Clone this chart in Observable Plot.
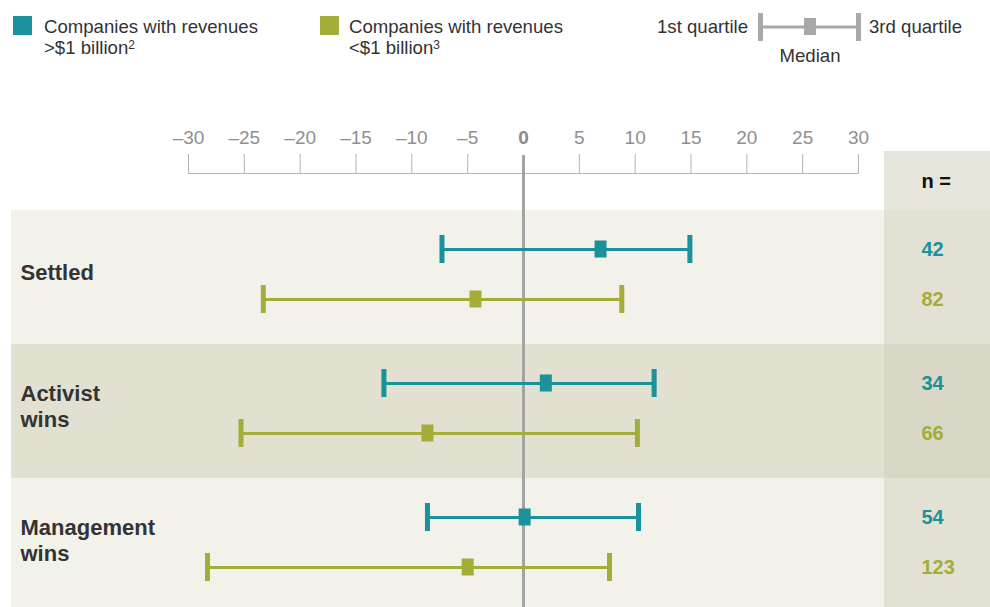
<!DOCTYPE html>
<html><head><meta charset="utf-8">
<script src="https://cdn.jsdelivr.net/npm/d3@7"></script>
<script src="https://cdn.jsdelivr.net/npm/@observablehq/plot@0.6"></script>
<style>
body{margin:0;background:#fff;font-family:"Liberation Sans",Arial,Helvetica,sans-serif;}
#legend{position:relative;width:990px;height:100px;color:#333;font-size:18.6px;}
#legend .sw{position:absolute;width:19px;height:19px;top:16px;}
#legend .txt{position:absolute;top:17px;line-height:20px;white-space:nowrap;}
#legend .l2{top:38px;}
#legend sup{font-size:12px;line-height:10px;vertical-align:baseline;position:relative;top:-5px;}
#chart svg{display:block;}
</style></head><body>
<div id="legend">
  <div class="sw" style="left:13px;background:#1a919b"></div>
  <div class="txt" style="left:44px">Companies with revenues</div>
  <div class="txt l2" style="left:44px">&gt;$1 billion<sup>2</sup></div>
  <div class="sw" style="left:320px;background:#a4ad37"></div>
  <div class="txt" style="left:349px">Companies with revenues</div>
  <div class="txt l2" style="left:349px">&lt;$1 billion<sup>3</sup></div>
  <div class="txt" style="right:242px;text-align:right">1st quartile</div>
  <svg style="position:absolute;left:757px;top:12px" width="106" height="30">
    <line x1="4" x2="102" y1="15" y2="15" stroke="#a8a8a8" stroke-width="3"/>
    <rect x="1" y="1" width="5" height="28" fill="#a8a8a8"/>
    <rect x="99" y="1" width="5" height="28" fill="#a8a8a8"/>
    <rect x="47" y="6" width="12" height="17" fill="#a8a8a8"/>
  </svg>
  <div class="txt" style="left:869px">3rd quartile</div>
  <div class="txt" style="left:810px;top:46px;transform:translateX(-50%)">Median</div>
</div>
<div id="chart"></div>
<script>
// ---- data ----
const groups = ["Settled", "Activist wins", "Management wins"];
const groupLabels = ["Settled", "Activist\nwins", "Management\nwins"];
const xTicks = [-30, -25, -20, -15, -10, -5, 0, 5, 10, 15, 20, 25, 30];

// Companies with revenues > $1 billion
const bigQ1  = [-7.3, -12.5, -8.6];
const bigMed = [6.9, 2.0, 0.1];
const bigQ3  = [14.9, 11.7, 10.3];
const bigN   = [42, 34, 54];

// Companies with revenues < $1 billion
const smallQ1  = [-23.3, -25.3, -28.3];
const smallMed = [-4.3, -8.6, -5.0];
const smallQ3  = [8.8, 10.2, 7.7];
const smallN   = [82, 66, 123];

// ---- tables ----
const big = groups.map((g, i) => ({group: g, q1: bigQ1[i], med: bigMed[i], q3: bigQ3[i], n: bigN[i]}));
const small = groups.map((g, i) => ({group: g, q1: smallQ1[i], med: smallMed[i], q3: smallQ3[i], n: smallN[i]}));
const labels = groups.map((g, i) => ({group: g, label: groupLabels[i]}));

const TEAL = "#1a919b", OLIVE = "#a4ad37";
const fmt = d => d < 0 ? "\u2013" + (-d) : String(d);

function series(rows, color, dy, capTop, medTop) {
  const bw = 134;
  return [
    Plot.ruleY(rows, {y: "group", x1: "q1", x2: "q3", stroke: color, strokeWidth: 3, dy}),
    Plot.tickX(rows, {x: "q1", y: "group", stroke: color, strokeWidth: 5, insetTop: capTop, insetBottom: bw - capTop - 28}),
    Plot.tickX(rows, {x: "q3", y: "group", stroke: color, strokeWidth: 5, insetTop: capTop, insetBottom: bw - capTop - 28}),
    Plot.tickX(rows, {x: "med", y: "group", stroke: color, strokeWidth: 12, insetTop: medTop, insetBottom: bw - medTop - 17}),
    Plot.text(rows, {y: "group", text: d => String(d.n), frameAnchor: "right", dx: 63, dy, textAnchor: "start",
      fill: color, fontWeight: "bold", fontSize: 20})
  ];
}

const chart = Plot.plot({
  width: 990,
  height: 507,
  marginTop: 73,
  marginBottom: 0,
  marginLeft: 188,
  marginRight: 132,
  style: {fontFamily: "'Liberation Sans', Arial, Helvetica, sans-serif", background: "transparent", overflow: "hidden"},
  x: {domain: [-30, 30], axis: null},
  y: {type: "band", domain: groups, range: [110, 512], padding: 0, axis: null},
  marks: [
    // row backgrounds
    Plot.cell(groups, {y: d => d, fill: (d, i) => i % 2 ? "#e1e0d1" : "#f2f1ea", insetLeft: -177, insetRight: -132}),
    // n column
    Plot.cell(groups, {y: d => d, fill: (d, i) => i % 2 ? "#d9d8c6" : "#e2e1d4", insetLeft: 696, insetRight: -132}),
    Plot.cell([groups[0]], {y: d => d, fill: "#e6e5db", insetLeft: 696, insetRight: -132, insetTop: -59, insetBottom: 134}),
    Plot.text(["n ="], {y: () => groups[0], text: d => d, frameAnchor: "right", dx: 63, dy: -96, textAnchor: "start",
      fill: "#111", fontWeight: "bold", fontSize: 20}),
    // axis
    Plot.frame({anchor: "top", stroke: "#b3b3b3"}),
    Plot.axisX({ticks: xTicks.filter(t => t !== 0), anchor: "top", tickSize: 20, tickPadding: 10,
      stroke: "#b3b3b3", fill: "#8f8f8f", fontSize: 19, tickFormat: fmt, label: null}),
    Plot.axisX({ticks: [0], anchor: "top", tickSize: 0, tickPadding: 30, stroke: "none",
      fill: "#8a8a8a", fontWeight: "bold", fontSize: 19, tickFormat: fmt, label: null}),
    Plot.ruleX([0], {stroke: "#a3a3a3", strokeWidth: 3, insetTop: -18}),
    // row labels
    Plot.text(labels, {y: "group", text: "label", frameAnchor: "left", dx: -168, dy: -6, textAnchor: "start",
      fill: "#333", fontWeight: "bold", fontSize: 22, lineHeight: 1.18}),
    // series
    ...series(big, TEAL, -28, 25, 30.5),
    ...series(small, OLIVE, 22, 75, 80.5)
  ]
});
document.getElementById("chart").appendChild(chart);
</script>
</body></html>
